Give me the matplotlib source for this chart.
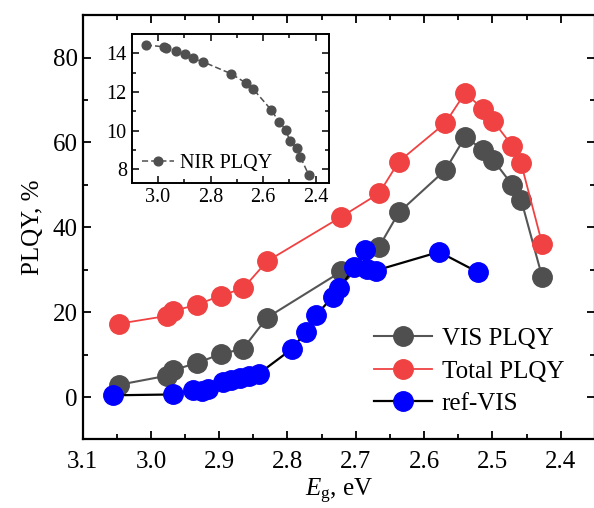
import matplotlib
matplotlib.use('agg')
import matplotlib.pyplot as plt
from matplotlib.ticker import MultipleLocator

plt.rcParams['font.family'] = ['Liberation Serif', 'DejaVu Serif']
plt.rcParams['mathtext.fontset'] = 'custom'
plt.rcParams['mathtext.rm'] = 'Liberation Serif'
plt.rcParams['mathtext.it'] = 'Liberation Serif:italic'

# band gap values shared by the VIS / total / NIR series
eg = [3.046, 2.977, 2.968, 2.933, 2.898, 2.865, 2.830, 2.721, 2.666, 2.637,
      2.569, 2.540, 2.514, 2.499, 2.471, 2.458, 2.427]
vis_plqy = [2.9, 5.0, 6.3, 8.0, 10.1, 11.4, 18.7, 29.6, 35.4, 43.5,
            53.5, 61.3, 58.3, 55.9, 50.0, 46.5, 28.2]
total_plqy = [17.3, 19.1, 20.3, 21.7, 23.9, 25.6, 32.0, 42.5, 48.0, 55.5,
              64.6, 71.7, 67.9, 65.1, 59.2, 55.1, 36.0]
nir_plqy = [14.43, 14.34, 14.27, 14.13, 13.95, 13.74, 13.57, 12.94, 12.47, 12.14,
            11.07, 10.47, 10.04, 9.49, 9.09, 8.63, 7.72]

# reference sample
ref_eg = [3.056, 2.967, 2.939, 2.925, 2.917, 2.894, 2.882, 2.870, 2.857, 2.842,
          2.793, 2.773, 2.758, 2.734, 2.724, 2.702, 2.686, 2.684, 2.671, 2.578, 2.521]
ref_vis = [0.4, 0.6, 1.6, 1.4, 2.0, 3.5, 3.9, 4.5, 5.0, 5.5,
           11.4, 15.4, 19.3, 23.6, 25.6, 30.6, 34.6, 30.1, 29.8, 34.2, 29.4]

GRAY = '#4f4f4f'
RED = '#f04242'
BLUE = '#0000ff'

fig = plt.figure(figsize=(5.94, 5.08), dpi=100)
ax = fig.add_axes([0.139, 0.135, 0.8625, 0.835])

ms = 14
ax.plot(eg, vis_plqy, '-', color='#555555', lw=1.5, marker='o', ms=ms,
        mfc=GRAY, mec=GRAY, label='VIS PLQY')
ax.plot(eg, total_plqy, '-', color=RED, lw=1.3, marker='o', ms=ms,
        mfc=RED, mec=RED, label='Total PLQY')
ax.plot(ref_eg, ref_vis, '-', color='black', lw=1.6, marker='o', ms=ms,
        mfc=BLUE, mec=BLUE, label='ref-VIS')

ax.set_xlim(3.1, 2.35)
ax.set_ylim(-10, 90)
ax.xaxis.set_major_locator(MultipleLocator(0.1))
ax.xaxis.set_minor_locator(MultipleLocator(0.05))
ax.yaxis.set_major_locator(MultipleLocator(20))
ax.yaxis.set_minor_locator(MultipleLocator(10))
ax.tick_params(which='both', direction='in', top=True, right=True, width=1.3,
               labelsize=18)
ax.tick_params(which='major', length=6)
ax.tick_params(which='minor', length=3.5)
ax.tick_params(axis='x', pad=8)
for s in ax.spines.values():
    s.set_linewidth(1.6)
ax.set_xlabel(r'$E_\mathrm{g}$, eV', fontsize=18, labelpad=3)
ax.set_ylabel('PLQY, %', fontsize=18, labelpad=6)

leg = ax.legend(loc='upper left', bbox_to_anchor=(0.535, 0.305), frameon=False,
                fontsize=18, handlelength=2.3, handletextpad=0.4,
                labelspacing=0.4, borderpad=0.2)

# inset: NIR PLQY
ins = fig.add_axes([0.2217, 0.640, 0.332, 0.293])
ins.plot(eg, nir_plqy, color=GRAY, lw=1.1, ls=(0, (4, 2)), marker='o', ms=6.3,
         mfc=GRAY, mec=GRAY, label='NIR PLQY')
ins.set_xlim(3.1, 2.35)
ins.set_ylim(7.3, 15.0)
ins.xaxis.set_major_locator(MultipleLocator(0.2))
ins.xaxis.set_minor_locator(MultipleLocator(0.1))
ins.yaxis.set_major_locator(MultipleLocator(2))
ins.yaxis.set_minor_locator(MultipleLocator(1))
ins.tick_params(which='both', direction='in', top=True, right=True, width=1.1,
                labelsize=14.5)
ins.tick_params(which='major', length=5)
ins.tick_params(which='minor', length=3)
for s in ins.spines.values():
    s.set_linewidth(1.4)
ins.legend(loc='lower left', frameon=False, fontsize=14.5, handlelength=1.6,
           handletextpad=0.3, borderpad=0.3, borderaxespad=0.2)

fig.savefig('out.png', dpi=100)
